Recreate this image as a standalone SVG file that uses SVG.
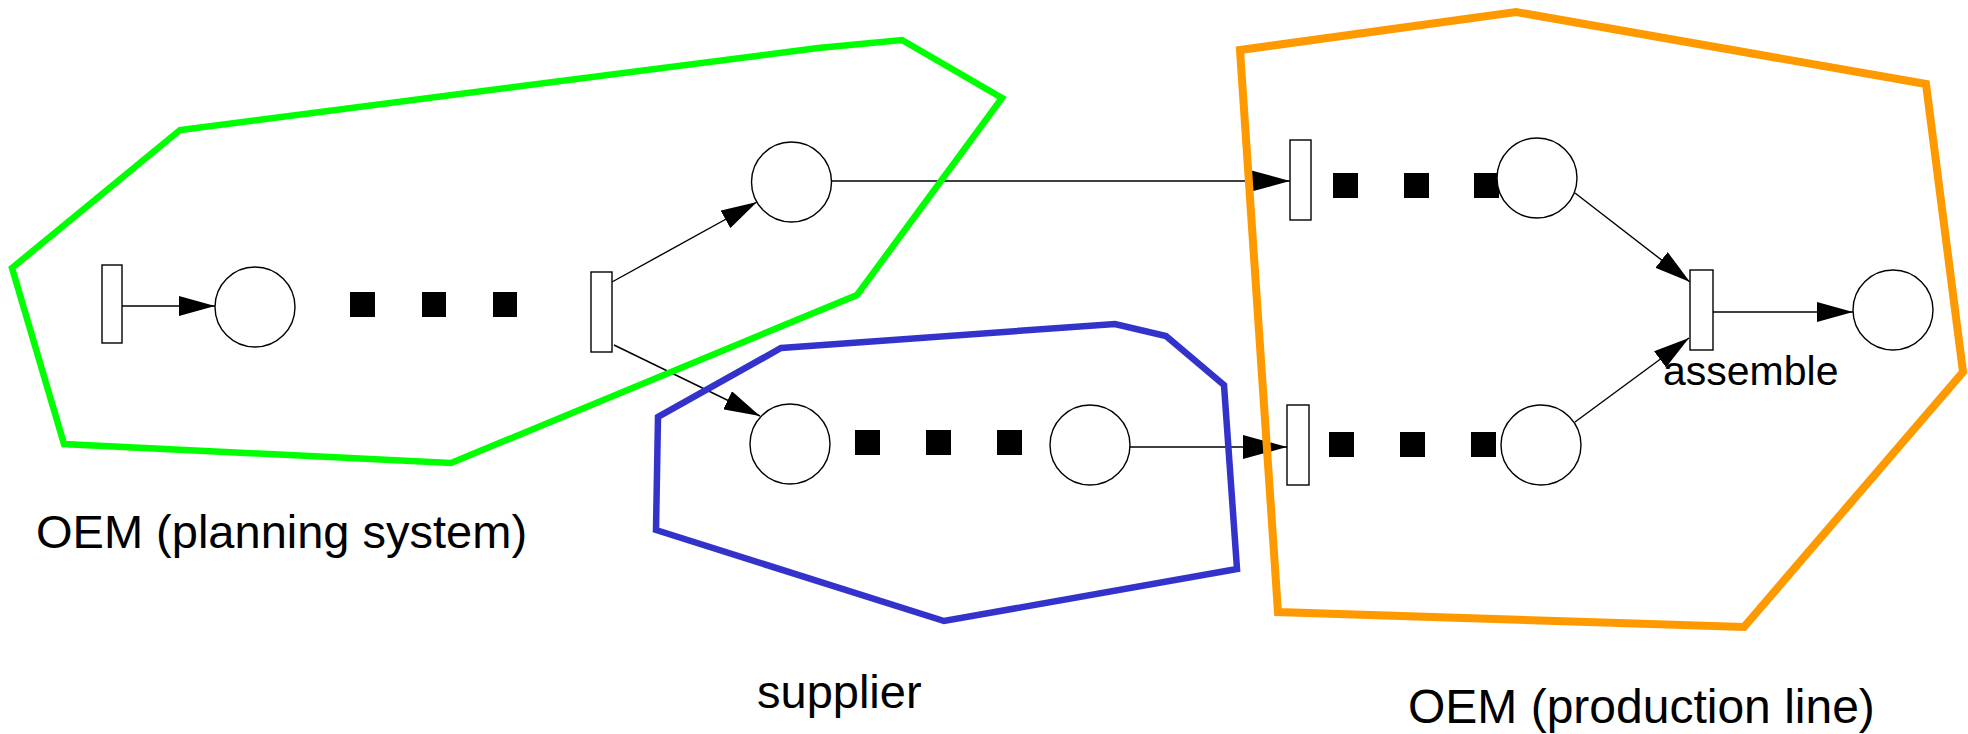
<svg xmlns="http://www.w3.org/2000/svg" width="1968" height="734" viewBox="0 0 1968 734">
  <style>
    .place { fill: #ffffff; stroke: #000000; stroke-width: 1.4; }
    .trans { fill: #ffffff; stroke: #000000; stroke-width: 1.4; }
    .token { fill: #000000; }
    .arc { fill: none; stroke: #000000; stroke-width: 1.4; }
    .region { fill: none; stroke-linejoin: miter; stroke-miterlimit: 10; }
    .label { font-family: "Liberation Sans", Arial, sans-serif; fill: #000000; }
  </style>
  <defs>
    <marker id="head" markerUnits="userSpaceOnUse" markerWidth="36" markerHeight="20" refX="36" refY="10" orient="auto">
      <path d="M0,0 L36,10 L0,20 z" fill="#000000"/>
    </marker>
    <marker id="head-lg" markerUnits="userSpaceOnUse" markerWidth="44" markerHeight="24" refX="44" refY="12" orient="auto">
      <path d="M0,0 L44,12 L0,24 z" fill="#000000"/>
    </marker>
  </defs>

  <rect x="0" y="0" width="1968" height="734" fill="#ffffff"/>

  <!-- arcs of the net -->
  <g id="connectors">
    <path class="arc" d="M122,306 L215,306" marker-end="url(#head)"/>
    <path class="arc" d="M612,282 L757,202" marker-end="url(#head)"/>
    <path class="arc" d="M614,345 L760,416" marker-end="url(#head)"/>
    <path class="arc" d="M831,181 L1290,181" marker-end="url(#head-lg)"/>
    <path class="arc" d="M1130,447 L1287,447" marker-end="url(#head-lg)"/>
    <path class="arc" d="M1575,193 L1690,282" marker-end="url(#head)"/>
    <path class="arc" d="M1575,422 L1689,338" marker-end="url(#head)"/>
    <path class="arc" d="M1713,312 L1853,312" marker-end="url(#head)"/>
  </g>

  <!-- organisational regions -->
  <g id="regions">
    <polygon id="region-planning" class="region" stroke="#00ff00" stroke-width="6.5" points="12,268 180,130 818,48 902,40 1002,98 857,295 451,463 64,444"/>
    <polygon id="region-supplier" class="region" stroke="#3333cc" stroke-width="6.5" points="781,348 1115,324 1166,336 1224,385 1237,569 944,621 656,530 658,417"/>
    <polygon id="region-production" class="region" stroke="#ff9900" stroke-width="8" points="1240,50 1516,12 1926,84 1963,372 1744,627 1278,612"/>
  </g>

  <!-- planning system -->
  <g id="t-start"><rect class="trans" x="102" y="265" width="20" height="78"/></g>
  <g id="p-plan"><circle class="place" cx="255" cy="307" r="40"/></g>
  <g id="dots-plan">
    <rect class="token" x="350" y="292" width="25" height="25"/>
    <rect class="token" x="422" y="292" width="24" height="25"/>
    <rect class="token" x="493" y="292" width="24" height="25"/>
  </g>
  <g id="t-order"><rect class="trans" x="591" y="272" width="21" height="80"/></g>
  <g id="p-order-oem"><circle class="place" cx="791.5" cy="182" r="40"/></g>

  <!-- supplier -->
  <g id="p-order-supplier"><circle class="place" cx="790" cy="444" r="40"/></g>
  <g id="dots-supplier">
    <rect class="token" x="855" y="430" width="25" height="25"/>
    <rect class="token" x="926" y="430" width="25" height="25"/>
    <rect class="token" x="997" y="430" width="25" height="25"/>
  </g>
  <g id="p-delivery"><circle class="place" cx="1090" cy="445" r="40"/></g>

  <!-- production line -->
  <g id="t-line-a"><rect class="trans" x="1290" y="140" width="21" height="80"/></g>
  <g id="dots-line-a">
    <rect class="token" x="1333" y="173" width="25" height="25"/>
    <rect class="token" x="1404" y="173" width="25" height="25"/>
    <rect class="token" x="1474" y="173" width="25" height="25"/>
  </g>
  <g id="p-part-a"><circle class="place" cx="1537" cy="178" r="40"/></g>

  <g id="t-line-b"><rect class="trans" x="1287" y="405" width="22" height="80"/></g>
  <g id="dots-line-b">
    <rect class="token" x="1329" y="432" width="25" height="25"/>
    <rect class="token" x="1400" y="432" width="25" height="25"/>
    <rect class="token" x="1471" y="432" width="25" height="25"/>
  </g>
  <g id="p-part-b"><circle class="place" cx="1541" cy="445" r="40"/></g>

  <g id="t-assemble">
    <rect class="trans" x="1690" y="270" width="23" height="80"/>
    <text class="label" x="1663" y="385" font-size="41">assemble</text>
  </g>
  <g id="p-product"><circle class="place" cx="1893" cy="310" r="40"/></g>

  <!-- region captions -->
  <g id="captions">
    <text class="label" x="36" y="548" font-size="47">OEM (planning system)</text>
    <text class="label" x="757" y="708" font-size="47">supplier</text>
    <text class="label" x="1408" y="723" font-size="48">OEM (production line)</text>
  </g>
</svg>
